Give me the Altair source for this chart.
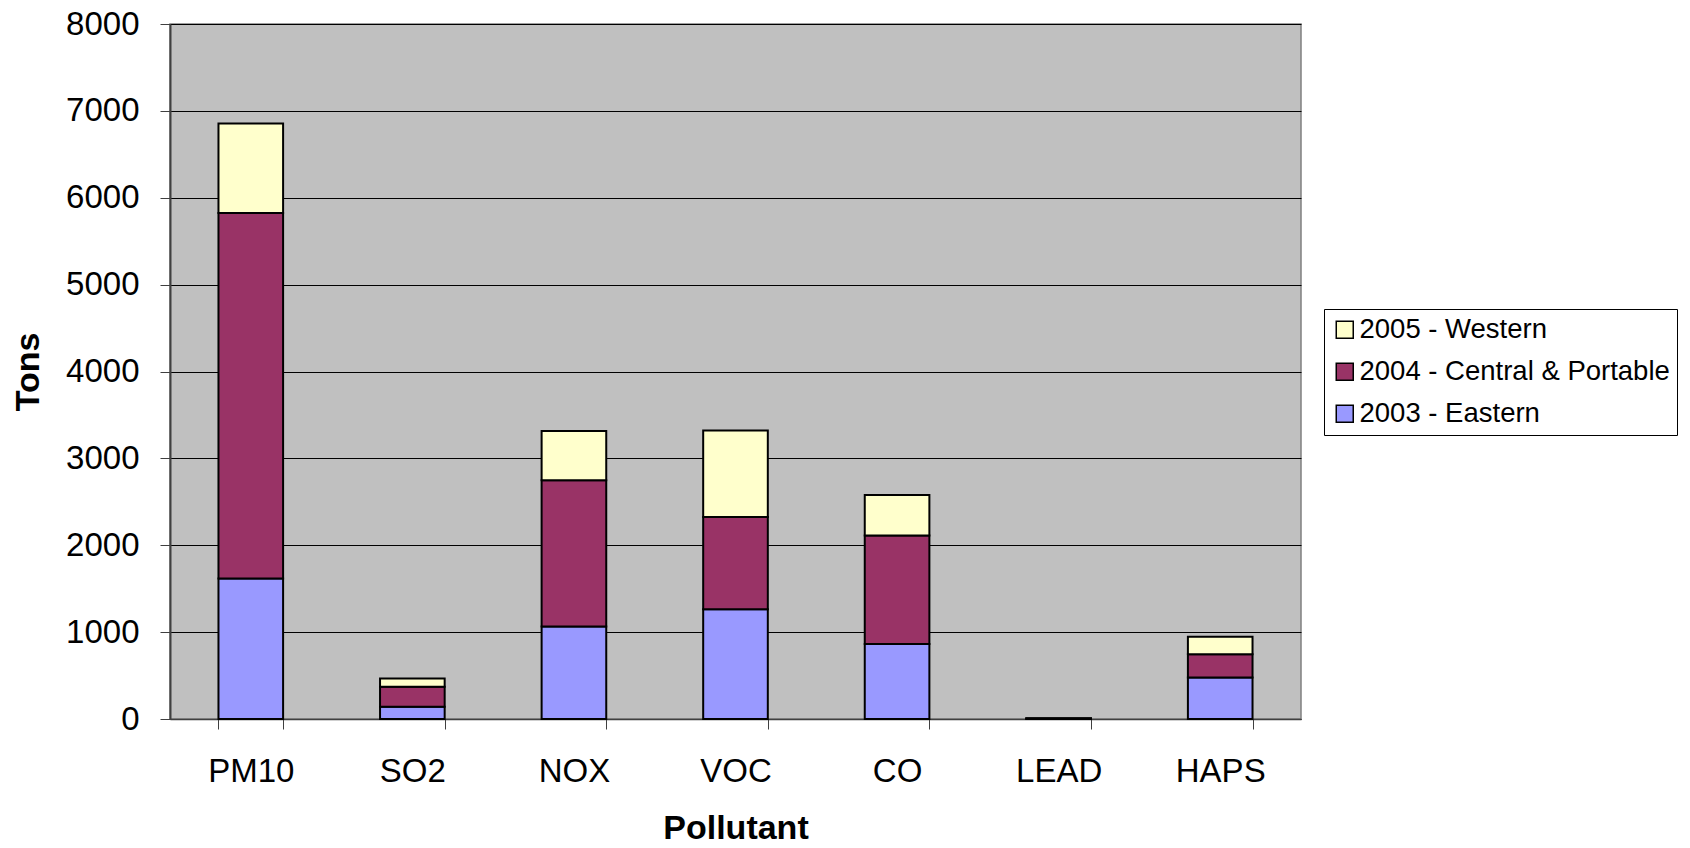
import altair as alt
import pandas as pd

pollutants = ["PM10", "SO2", "NOX", "VOC", "CO", "LEAD", "HAPS"]
eastern_2003 = [1616, 142, 1065, 1264, 862, 3, 479]
central_2004 = [4208, 230, 1682, 1062, 1249, 4, 266]
western_2005 = [1032, 95, 567, 996, 468, 2, 201]

series_names = ["2005 - Western", "2004 - Central & Portable", "2003 - Eastern"]
series_colors = ["#FFFFCC", "#993366", "#9999FF"]
y_ticks = [0, 1000, 2000, 3000, 4000, 5000, 6000, 7000, 8000]

rows = []
for i, p in enumerate(pollutants):
    rows.append({"Pollutant": p, "Series": "2003 - Eastern", "Tons": eastern_2003[i], "ord": 0})
    rows.append({"Pollutant": p, "Series": "2004 - Central & Portable", "Tons": central_2004[i], "ord": 1})
    rows.append({"Pollutant": p, "Series": "2005 - Western", "Tons": western_2005[i], "ord": 2})
df = pd.DataFrame(rows)

FONT = "Liberation Sans"

chart = alt.Chart(df).mark_bar(stroke="black", strokeWidth=2).encode(
    x=alt.X(
        "Pollutant:N",
        sort=pollutants,
        scale=alt.Scale(paddingInner=0.6, paddingOuter=0.3),
        axis=alt.Axis(
            title="Pollutant",
            labelAngle=0,
            labelFontSize=33,
            labelPadding=26,
            labelColor="black",
            tickBand="extent",
            tickSize=10,
            tickColor="#404040",
            domainColor="#404040",
            domainWidth=1.5,
            titleFontSize=34,
            titleFontWeight="bold",
            titleX=565.5,
            titleY=119,
            titleBaseline="alphabetic",
            titleColor="black",
        ),
    ),
    y=alt.Y(
        "Tons:Q",
        scale=alt.Scale(domain=[0, 8000], nice=False),
        axis=alt.Axis(
            title="Tons",
            values=y_ticks,
            format="d",
            labelFontSize=33,
            labelPadding=21,
            labelColor="black",
            tickSize=10,
            tickColor="#404040",
            domainColor="#404040",
            domainWidth=2,
            grid=True,
            gridColor="black",
            gridWidth=1,
            titleFontSize=34,
            titleFontWeight="bold",
            titleAngle=270,
            titleX=-141.5,
            titleY=347.5,
            titleAlign="center",
            titleBaseline="middle",
            titleColor="black",
        ),
    ),
    color=alt.Color(
        "Series:N",
        scale=alt.Scale(domain=series_names, range=series_colors),
        title=None,
        legend=alt.Legend(
            orient="none",
            legendX=1154,
            legendY=285,
            strokeColor="black",
            fillColor="white",
            padding=7,
            symbolType="square",
            symbolSize=289,
            symbolStrokeColor="black",
            symbolStrokeWidth=1.5,
            labelFontSize=27.5,
            labelOffset=1,
            labelLimit=500,
            labelColor="black",
            rowPadding=13,
        ),
    ),
    order=alt.Order("ord:Q", sort="ascending"),
).properties(
    width=1131,
    height=695,
    autosize=alt.AutoSizeParams(type="none"),
    padding={"left": 162, "top": 16, "right": 381, "bottom": 121},
).configure(
    font=FONT,
).configure_view(
    fill="#C0C0C0",
    stroke="#808080",
    strokeWidth=1.5,
)

chart.save("out.html", embed_options={"renderer": "svg", "actions": False})
